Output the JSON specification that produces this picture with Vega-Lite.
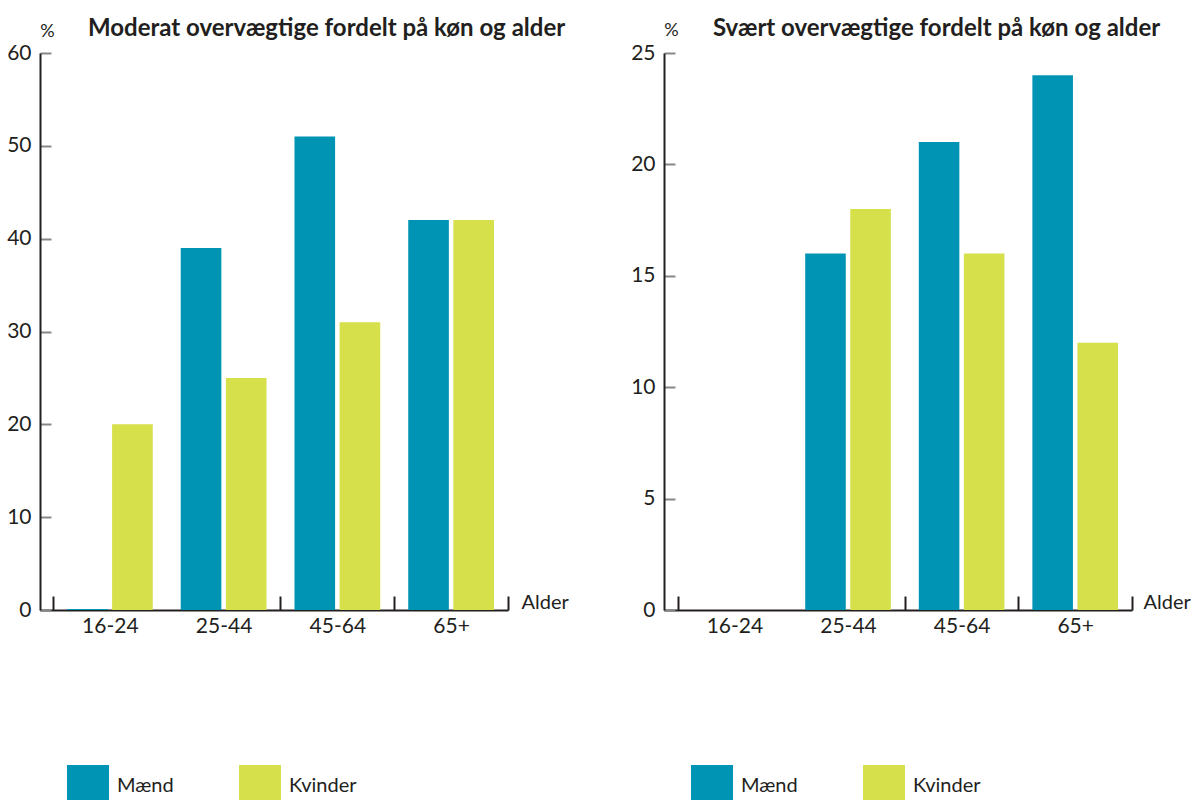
{
  "$schema": "https://vega.github.io/schema/vega-lite/v6.json",
  "padding": {"left": 6, "top": 17, "right": 0, "bottom": 0},
  "background": "white",
  "config": {
    "font": "Lato",
    "view": {"stroke": null},
    "axis": {"labelFont": "Lato", "titleFont": "Lato", "labelColor": "#231f20", "titleColor": "#231f20", "grid": false, "domainColor": "#231f20", "domainWidth": 2, "tickWidth": 2}
  },
  "spacing": 156,
  "bounds": "flush",
  "resolve": {"scale": {"x": "independent", "y": "independent", "color": "independent", "xOffset": "independent"}, "legend": {"color": "independent"}},
  "hconcat": [
    {
      "width": 468,
      "height": 557,
      "data": {"values": [
        {"alder": "16-24", "koen": "Mænd", "pct": 0.1},
        {"alder": "16-24", "koen": "Kvinder", "pct": 20},
        {"alder": "25-44", "koen": "Mænd", "pct": 39},
        {"alder": "25-44", "koen": "Kvinder", "pct": 25},
        {"alder": "45-64", "koen": "Mænd", "pct": 51},
        {"alder": "45-64", "koen": "Kvinder", "pct": 31},
        {"alder": "65+", "koen": "Mænd", "pct": 42},
        {"alder": "65+", "koen": "Kvinder", "pct": 42}
      ]},
      "title": {"text": "Moderat overvægtige fordelt på køn og alder", "anchor": "start", "frame": "group", "dx": 48, "offset": -38, "baseline": "alphabetic", "fontSize": 24, "fontWeight": "bold", "font": "Lato", "color": "#231f20"},
      "mark": {"type": "bar"},
      "encoding": {
        "x": {"field": "alder", "type": "nominal", "sort": ["16-24", "25-44", "45-64", "65+"],
          "scale": {"paddingInner": 0, "paddingOuter": 0.057, "align": 1},
          "axis": {"title": "Alder", "titleX": 481, "titleY": -8, "titleAlign": "left", "titleBaseline": "middle", "titleFontWeight": "normal", "titleFontSize": 20, "titleAngle": 0,
            "labelAngle": 0, "labelFontSize": 21, "labelPadding": 19, "tickBand": "extent", "tickSize": -14,
            "tickColor": {"condition": {"test": "datum.value === '16-24'", "value": "transparent"}, "value": "#231f20"}}},
        "xOffset": {"field": "koen", "type": "nominal", "sort": ["Mænd", "Kvinder"], "scale": {"paddingInner": 0.1, "paddingOuter": 0.31}},
        "y": {"field": "pct", "type": "quantitative", "scale": {"domain": [0, 60], "nice": false},
          "axis": {"values": [0, 10, 20, 30, 40, 50, 60], "title": "%", "titleAngle": 0, "titleX": 7, "titleY": -22, "titleAlign": "center", "titleBaseline": "middle", "titleFontWeight": "normal", "titleFontSize": 18,
            "labelFontSize": 21, "labelPadding": 20, "tickSize": -11}},
        "color": {"field": "koen", "type": "nominal", "sort": ["Mænd", "Kvinder"],
          "scale": {"domain": ["Mænd", "Kvinder"], "range": ["#0094b4", "#d5e04b"]},
          "legend": {"title": null, "orient": "none", "legendX": 27, "legendY": 712, "direction": "horizontal", "symbolType": "square", "symbolSize": 1764, "symbolStrokeWidth": 0, "symbolOpacity": 1, "labelFontSize": 20, "labelFont": "Lato", "labelColor": "#231f20", "labelOffset": 8, "gridAlign": "all", "columnPadding": 54, "padding": 0}}
      }
    },
    {
      "width": 468,
      "height": 557,
      "data": {"values": [
        {"alder": "16-24", "koen": "Mænd", "pct": 0},
        {"alder": "16-24", "koen": "Kvinder", "pct": 0},
        {"alder": "25-44", "koen": "Mænd", "pct": 16},
        {"alder": "25-44", "koen": "Kvinder", "pct": 18},
        {"alder": "45-64", "koen": "Mænd", "pct": 21},
        {"alder": "45-64", "koen": "Kvinder", "pct": 16},
        {"alder": "65+", "koen": "Mænd", "pct": 24},
        {"alder": "65+", "koen": "Kvinder", "pct": 12}
      ]},
      "title": {"text": "Svært overvægtige fordelt på køn og alder", "anchor": "start", "frame": "group", "dx": 49, "offset": -39, "baseline": "alphabetic", "fontSize": 24, "fontWeight": "bold", "font": "Lato", "color": "#231f20"},
      "mark": {"type": "bar"},
      "encoding": {
        "x": {"field": "alder", "type": "nominal", "sort": ["16-24", "25-44", "45-64", "65+"],
          "scale": {"paddingInner": 0, "paddingOuter": 0.06, "align": 1},
          "axis": {"title": "Alder", "titleX": 479, "titleY": -8, "titleAlign": "left", "titleBaseline": "middle", "titleFontWeight": "normal", "titleFontSize": 20, "titleAngle": 0,
            "labelAngle": 0, "labelFontSize": 21, "labelPadding": 19, "tickBand": "extent", "tickSize": -14,
            "tickColor": {"condition": {"test": "datum.value === '16-24'", "value": "transparent"}, "value": "#231f20"}}},
        "xOffset": {"field": "koen", "type": "nominal", "sort": ["Mænd", "Kvinder"], "scale": {"paddingInner": 0.1, "paddingOuter": 0.31}},
        "y": {"field": "pct", "type": "quantitative", "scale": {"domain": [0, 25], "nice": false},
          "axis": {"values": [0, 5, 10, 15, 20, 25], "title": "%", "titleAngle": 0, "titleX": 7, "titleY": -23, "titleAlign": "center", "titleBaseline": "middle", "titleFontWeight": "normal", "titleFontSize": 18,
            "labelFontSize": 21, "labelPadding": 20, "tickSize": -11}},
        "color": {"field": "koen", "type": "nominal", "sort": ["Mænd", "Kvinder"],
          "scale": {"domain": ["Mænd", "Kvinder"], "range": ["#0094b4", "#d5e04b"]},
          "legend": {"title": null, "orient": "none", "legendX": 27, "legendY": 712, "direction": "horizontal", "symbolType": "square", "symbolSize": 1764, "symbolStrokeWidth": 0, "symbolOpacity": 1, "labelFontSize": 20, "labelFont": "Lato", "labelColor": "#231f20", "labelOffset": 8, "gridAlign": "all", "columnPadding": 54, "padding": 0}}
      }
    }
  ]
}
